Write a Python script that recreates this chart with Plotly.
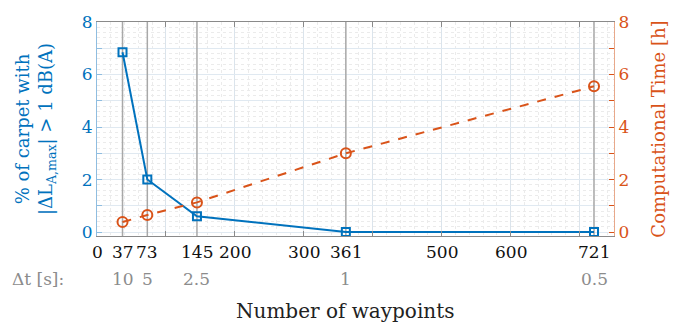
import plotly.graph_objects as go

waypoints = [37, 73, 145, 361, 721]
carpet_pct = [6.85, 2.0, 0.6, 0.0, 0.0]
comp_time_h = [0.38, 0.65, 1.13, 3.0, 5.55]
dt_labels = ["10", "5", "2.5", "1", "0.5"]
x_tickvals = [0, 37, 73, 145, 200, 300, 361, 500, 600, 721]
y_tickvals = [0, 1, 2, 3, 4, 5, 6, 7, 8]
y_ticktext = ["0", "", "2", "", "4", "", "6", "", "8"]

BLUE = "#0072BD"
ORANGE = "#D95319"
FONT = "DejaVu Serif"
Y_RANGE = [-0.15, 8]

# vertical reference lines at the waypoint counts (drawn under the data)
gx, gy = [], []
for w in waypoints:
    gx += [w, w, None]
    gy += [Y_RANGE[0], Y_RANGE[1], None]

fig = go.Figure()
fig.add_trace(go.Scatter(x=gx, y=gy, mode="lines", line=dict(color="#a8a8a8", width=1.5),
                         xaxis="x", yaxis="y", showlegend=False, hoverinfo="skip"))
fig.add_trace(go.Scatter(x=waypoints, y=carpet_pct, mode="lines+markers",
                         line=dict(color=BLUE, width=2),
                         marker=dict(symbol="square-open", size=8, color=BLUE, line=dict(width=2)),
                         yaxis="y", xaxis="x", showlegend=False))
fig.add_trace(go.Scatter(x=waypoints, y=comp_time_h, mode="lines+markers",
                         line=dict(color=ORANGE, width=2, dash="dash"),
                         marker=dict(symbol="circle-open", size=10, color=ORANGE, line=dict(width=2)),
                         yaxis="y2", xaxis="x", showlegend=False))

annotations = []
for v in x_tickvals:
    annotations.append(dict(x=v, y=-0.075, xref="x", yref="paper", text=str(v), showarrow=False,
                            font=dict(family=FONT, size=17, color="#111"),
                            xanchor="center", yanchor="middle"))
for w, t in zip(waypoints, dt_labels):
    annotations.append(dict(x=w, y=-0.2, xref="x", yref="paper", text=t, showarrow=False,
                            font=dict(family=FONT, size=17, color="#8c8c8c"),
                            xanchor="center", yanchor="middle"))
annotations.append(dict(x=-0.06, y=-0.2, xref="paper", yref="paper", text="Δt [s]:",
                        showarrow=False, font=dict(family=FONT, size=17, color="#8c8c8c"),
                        xanchor="right", yanchor="middle"))
annotations.append(dict(x=0.48, y=-0.35, xref="paper", yref="paper", text="Number of waypoints",
                        showarrow=False, font=dict(family=FONT, size=20, color="#222"),
                        xanchor="center", yanchor="middle"))

fig.update_layout(
    width=682, height=333,
    margin=dict(l=97, r=68, t=15, b=97),
    plot_bgcolor="white", paper_bgcolor="white",
    font=dict(family=FONT),
    annotations=annotations,
    xaxis=dict(range=[0, 750], dtick=100, tick0=0, showticklabels=False,
               showgrid=True, gridcolor="#dbe4ec", gridwidth=1,
               zeroline=False, showline=True, linecolor="#8a8a8a", mirror="ticks",
               ticks="inside", ticklen=5, tickcolor="#8a8a8a",
               minor=dict(dtick=20, tick0=0, showgrid=True, gridcolor="#ebebeb", griddash="dot", gridwidth=1)),
    yaxis=dict(range=Y_RANGE, tickvals=y_tickvals, ticktext=y_ticktext,
               tickfont=dict(family=FONT, size=17, color=BLUE), ticks="inside", ticklen=5,
               tickcolor="#8fbde0", showline=True, linecolor="#8fbde0", zeroline=False,
               showgrid=True, gridcolor="#e0e9f1", gridwidth=1,
               minor=dict(dtick=0.2, tick0=0, showgrid=True, gridcolor="#ebebeb", griddash="dot"),
               title=dict(text="% of carpet with<br>|ΔL<sub>A,max</sub>| > 1 dB(A)",
                          font=dict(family=FONT, size=18, color=BLUE), standoff=24)),
    yaxis2=dict(range=Y_RANGE, overlaying="y", side="right", tickvals=y_tickvals, ticktext=y_ticktext,
                tickfont=dict(family=FONT, size=17, color=ORANGE), ticks="inside", ticklen=5,
                tickcolor=ORANGE, showline=True, linecolor="#e8a88a", zeroline=False, showgrid=False,
                title=dict(text="Computational Time [h]", font=dict(family=FONT, size=18, color=ORANGE),
                           standoff=24)),
)

fig.write_html("out.html")
